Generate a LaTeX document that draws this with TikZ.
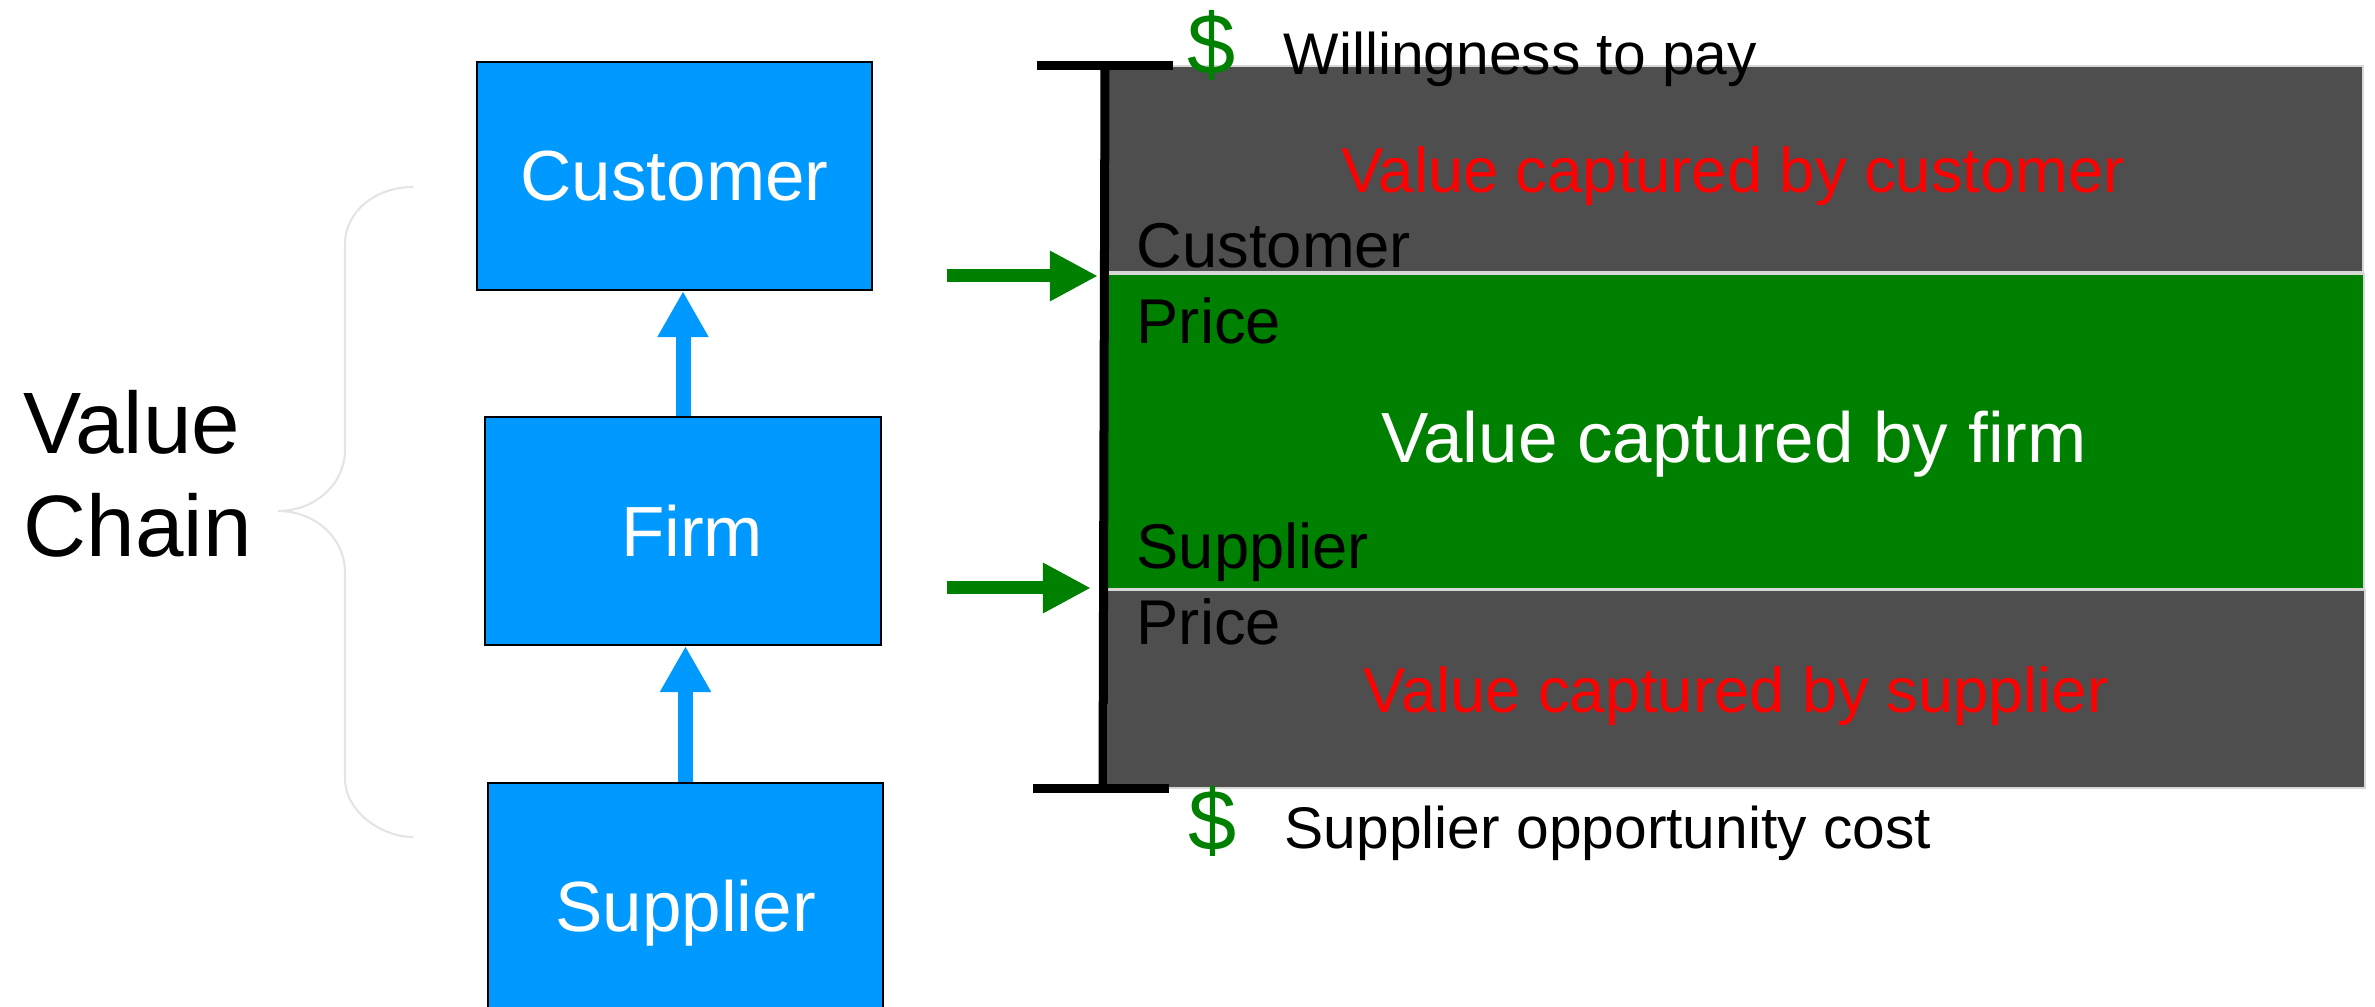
\documentclass[tikz,border=0pt]{standalone}
\usepackage{fontspec}
\setmainfont{Liberation Sans}
\usetikzlibrary{arrows.meta,calc}

\definecolor{boxblue}{RGB}{0,153,255}
\definecolor{bandgray}{RGB}{78,78,78}
\definecolor{bandgreen}{RGB}{0,128,0}
\definecolor{bracegray}{RGB}{228,228,228}
\definecolor{edgegray}{RGB}{215,215,215}
\definecolor{labelred}{RGB}{255,0,0}

\newcommand{\fsz}[1]{\fontsize{#1}{#1}\selectfont}

\tikzset{
  chainbox/.style={draw=black, line width=0.6pt, fill=boxblue, text=white,
    inner sep=0pt, minimum width=3.95cm, minimum height=2.28cm, font=\fsz{20.2pt}},
  flowarrow/.style={draw=boxblue, line width=0.15cm,
    -{Triangle[width=0.48cm,length=0.46cm]}},
  bracecurve/.style={draw=bracegray, line width=0.6pt},
  band/.style={draw=edgegray, line width=0.5pt, inner sep=0pt, anchor=north west},
  bracket/.style={draw=black, line width=0.09cm},
  pointer/.style={draw=bandgreen, line width=0.13cm,
    -{Triangle[width=0.47cm,length=0.48cm]}},
  note/.style={inner sep=0pt, anchor=base west},
  midnote/.style={inner sep=0pt, anchor=base},
  dollar/.style={inner sep=0pt, anchor=base, text=bandgreen, font=\fsz{24.6pt}},
}

\begin{document}
\begin{tikzpicture}[x=0.01cm, y=-0.01cm]
\useasboundingbox (0,0) rectangle (2375,1007);

% value chain boxes (the lowest one runs off the bottom edge)
\node[chainbox] (cust) at (674.5,176) {Customer};
\node[chainbox] (firm) at (683,531) {\hspace*{0.18cm}Firm};
\node[chainbox, minimum height=2.6cm] (supp) at (685.5,913) {Supplier};

\draw[flowarrow] (firm.north) -- (firm.north |- cust.south);
\draw[flowarrow] (supp.north) -- (supp.north |- firm.south);

% curly brace grouping the chain
\draw[bracecurve] (413,187) .. controls (375,187) and (345,212) .. (345,244)
  -- (345,450) .. controls (345,483) and (316,511) .. (278,511)
  .. controls (316,511) and (345,539) .. (345,572)
  -- (345,779) .. controls (345,811) and (381,837) .. (413,837);

\node[note, font=\fsz{24.8pt}] (vc1) at (23,454) {Value};
\node[note, font=\fsz{24.8pt}] (vc2) at (23,557) {Chain};

% value bands
\node[band, fill=bandgray, minimum width=12.55cm, minimum height=2.06cm] (custband) at (1106,65) {};
\node[band, fill=bandgreen, minimum width=12.56cm, minimum height=3.15cm] (firmband) at (1106,273) {};
\node[band, fill=bandgray, minimum width=12.57cm, minimum height=1.98cm] (suppband) at (1106,589) {};

% bracket spanning willingness to pay down to opportunity cost
\coordinate (btop) at (1105,66);
\coordinate (bbot) at (1103,789);
\coordinate (btl) at (1037,66);
\coordinate (btr) at (1173,66);
\coordinate (bbl) at (1033,789);
\coordinate (bbr) at (1169,789);
\draw[bracket] (btl) -- (btr);
\draw[bracket] (btop) -- (bbot);
\draw[bracket] (bbl) -- (bbr);

% price pointers
\coordinate (cp0) at (947,276);
\coordinate (cp1) at (1098,276);
\coordinate (sp0) at (947,588);
\coordinate (sp1) at (1091,588);
\draw[pointer] (cp0) -- (cp1);
\draw[pointer] (sp0) -- (sp1);

% labels
\node[dollar] (d1) at (1212,75) {\$};
\node[note, font=\fsz{16.7pt}] (wtp) at (1283,75) {Willingness to pay};
\node[midnote, text=labelred, font=\fsz{18pt}] (vcc) at (1733,193) {Value captured by customer};
\node[note, font=\fsz{18pt}] (cpa) at (1136,268) {Customer};
\node[note, font=\fsz{18pt}] (cpb) at (1136,344) {Price};
\node[midnote, text=white, font=\fsz{20.2pt}] (vcf) at (1734,463) {Value captured by firm};
\node[note, font=\fsz{18pt}] (spa) at (1136,569) {Supplier};
\node[note, font=\fsz{18pt}] (spb) at (1136,645) {Price};
\node[midnote, text=labelred, font=\fsz{18pt}] (vcs) at (1736,713) {Value captured by supplier};
\node[dollar] (d2) at (1213,851) {\$};
\node[note, font=\fsz{16.7pt}] (soc) at (1284,849) {Supplier opportunity cost};
\end{tikzpicture}
\end{document}
